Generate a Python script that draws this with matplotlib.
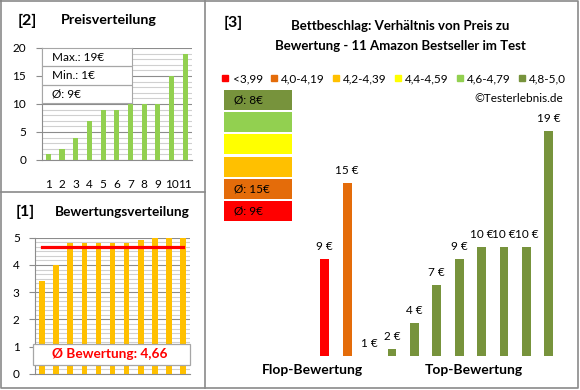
import matplotlib.pyplot as plt
from matplotlib.lines import Line2D
from matplotlib.patches import Rectangle
from matplotlib.ticker import MultipleLocator

plt.rcParams['font.family'] = ['Lato', 'DejaVu Sans']

# data
products = list(range(1, 12))
prices_sorted = [1, 2, 4, 7, 9, 9, 10, 10, 10, 15, 19]
ratings_sorted = [3.4, 4.0, 4.8, 4.8, 4.8, 4.8, 4.8, 4.9, 5.0, 5.0, 5.0]
avg_rating = 4.66
price_max, price_min, price_avg = 19, 1, 9

# panel [3]: price per product, grouped by rating class
ratio_prices = [9, 15, 1, 2, 4, 7, 9, 10, 10, 10, 19]
ratio_colors = ['#FF0000', '#E46C0A'] + ['#77933C'] * 9
class_labels = ['<3,99', '4,0-4,19', '4,2-4,39', '4,4-4,59', '4,6-4,79', '4,8-5,0']
class_colors = ['#FF0000', '#E46C0A', '#FFC000', '#FFFF00', '#92D050', '#77933C']
class_avg = ['Ø: 9€', 'Ø: 15€', '', '', '', 'Ø: 8€']
group_labels = ['Flop-Bewertung', 'Top-Bewertung']

W, H = 580, 390
fig = plt.figure(figsize=(W / 100, H / 100), dpi=100)


def rect(x0, y0, x1, y1):
    return [x0 / W, 1 - y1 / H, (x1 - x0) / W, (y1 - y0) / H]


def ftext(x, y, s, **kw):
    fig.text(x / W, 1 - y / H, s, **kw)


grid_major = '#8C8C8C'
grid_minor = '#D0D0D0'
frame = '#8A8A8A'

# frame lines
for xs, ys in [([1, 578, 578, 1, 1], [1, 1, 388, 388, 1]),
               ([205, 205], [1, 388]), ([1, 205], [192, 192])]:
    fig.add_artist(Line2D([x / W for x in xs], [1 - y / H for y in ys],
                          color=frame, lw=1.2))

# ---------- [2] Preisverteilung ----------
ax1 = fig.add_axes(rect(41.5, 48, 192, 160))
ax1.bar(products, prices_sorted, width=0.37, color='#92D050', zorder=3)
ax1.set_xlim(0.5, 11.5)
ax1.set_ylim(0, 20)
ax1.yaxis.set_major_locator(MultipleLocator(5))
ax1.yaxis.set_minor_locator(MultipleLocator(1))
ax1.grid(axis='y', which='minor', color=grid_minor, lw=0.8, zorder=0)
ax1.grid(axis='y', which='major', color=grid_major, lw=0.8, zorder=1)
ax1.set_xticks(products)
ax1.tick_params(axis='x', length=0, pad=14, labelsize=8.5)
ax1.tick_params(axis='y', which='major', length=4, color=grid_major, pad=7, labelsize=8.5)
ax1.tick_params(axis='y', which='minor', length=0)
for s in ['top', 'right']:
    ax1.spines[s].set_visible(False)
for s in ['left', 'bottom']:
    ax1.spines[s].set_color(grid_major)
ax1.set_axisbelow(True)

# stats box
box_ax = fig.add_axes(rect(42, 48, 131.7, 103.3))
box_ax.set_xlim(0, 1)
box_ax.set_ylim(0, 3)
box_ax.axhline(1, color='#A6A6A6', lw=0.9)
box_ax.axhline(2, color='#A6A6A6', lw=0.9)
for s in box_ax.spines.values():
    s.set_color('#A6A6A6')
box_ax.set_xticks([])
box_ax.set_yticks([])
stats = [f'Max.: {price_max}€', f'Min.: {price_min}€', f'Ø: {price_avg}€']
for i, s in enumerate(stats):
    box_ax.text(0.11, 2.5 - i, s, va='center', ha='left', fontsize=8.5)

ftext(27.5, 20.5, '[2]', ha='center', va='center', fontsize=11.5, fontweight='bold')
ftext(109, 20.5, 'Preisverteilung', ha='center', va='center', fontsize=10.3, fontweight='bold')

# ---------- [1] Bewertungsverteilung ----------
ax2 = fig.add_axes(rect(35, 237.7, 190, 374))
ax2.bar(products, ratings_sorted, width=0.4, color='#FFC000', zorder=3)
ax2.plot(products, [avg_rating] * len(products), color='#FF0000', lw=2.3, zorder=4)
ax2.set_xlim(0.5, 11.5)
ax2.set_ylim(0, 5)
ax2.yaxis.set_major_locator(MultipleLocator(1))
ax2.yaxis.set_minor_locator(MultipleLocator(1 / 6))
ax2.grid(axis='y', which='minor', color=grid_minor, lw=0.8, zorder=0)
ax2.grid(axis='y', which='major', color=grid_major, lw=0.8, zorder=1)
ax2.set_xticks([])
ax2.tick_params(axis='y', which='major', length=4, color=grid_major, pad=7, labelsize=8.5)
ax2.tick_params(axis='y', which='minor', length=0)
for s in ['top', 'right']:
    ax2.spines[s].set_visible(False)
for s in ['left', 'bottom']:
    ax2.spines[s].set_color(grid_major)

fig.add_artist(Rectangle((33 / W, 1 - 365 / H), 157 / W, 21 / H, facecolor='white',
                         edgecolor='#A6A6A6', lw=0.9, zorder=5))
ftext(110, 354.5, f'Ø Bewertung: {avg_rating:.2f}'.replace('.', ','), ha='center',
      va='center', fontsize=9.8, fontweight='bold', color='#FF0000', zorder=6)

ftext(25, 212, '[1]', ha='center', va='center', fontsize=11.5, fontweight='bold')
ftext(122, 212, 'Bewertungsverteilung', ha='center', va='center', fontsize=9.8, fontweight='bold')

# ---------- [3] Preis zu Bewertung ----------
ax3 = fig.add_axes(rect(215, 110, 560, 356))
ymin = 1.45
xpos = list(range(len(ratio_prices)))
ax3.bar(xpos, ratio_prices, width=0.4, color=ratio_colors, zorder=3)
for x, v in zip(xpos, ratio_prices):
    ax3.annotate(f'{v} €', (x, max(v, ymin)), xytext=(0, 5), textcoords='offset points',
                 ha='center', va='bottom', fontsize=8.5)
ax3.set_xlim(-4.9, 10.5)
ax3.set_ylim(ymin, 20.67)
ax3.set_yticks([])
ax3.set_xticks([-0.55, 6.67])
ax3.set_xticklabels(group_labels, fontsize=10, fontweight='bold')
ax3.tick_params(axis='x', length=0, pad=6)
for s in ax3.spines.values():
    s.set_visible(False)

# rating class boxes
for i, (c, t) in enumerate(zip(class_colors[::-1], class_avg[::-1])):
    y0 = 90 + i * 22.2
    fig.add_artist(Rectangle((224 / W, 1 - (y0 + 20) / H), 67.5 / W, 20 / H,
                             facecolor=c, edgecolor='none'))
    if t:
        ftext(234, y0 + 10.5, t, ha='left', va='center', fontsize=8.5)

handles = [Line2D([], [], marker='s', ls='', color=c, markersize=4.5) for c in class_colors]
fig.legend(handles, class_labels, loc='center', bbox_to_anchor=(394 / W, 1 - 78.7 / H),
           ncol=6, frameon=False, fontsize=8.5, handlelength=0.6, handletextpad=0.35,
           columnspacing=0.6, borderpad=0, borderaxespad=0)

ftext(233, 22.5, '[3]', ha='center', va='center', fontsize=11.5, fontweight='bold')
ftext(400, 26, 'Bettbeschlag: Verhältnis von Preis zu', ha='center', va='center',
      fontsize=9.5, fontweight='bold')
ftext(400, 46, 'Bewertung - 11 Amazon Bestseller im Test', ha='center', va='center',
      fontsize=9.5, fontweight='bold')
ftext(563, 98.5, '©Testerlebnis.de', ha='right', va='center', fontsize=8.5)

fig.savefig('out.png', dpi=100)
